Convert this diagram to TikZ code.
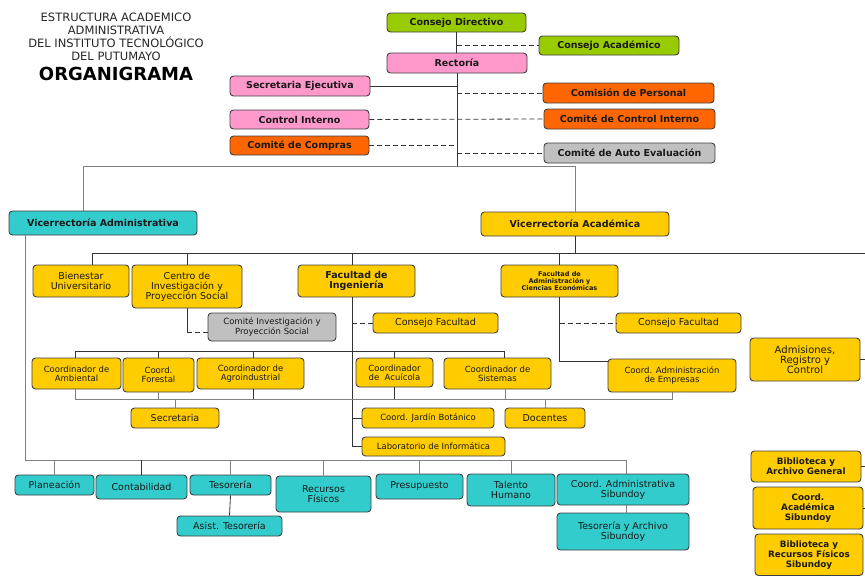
\documentclass[tikz,border=0pt]{standalone}
\usepackage{fontspec}
\setmainfont{DejaVu Sans}
\definecolor{cgreen}{HTML}{99CC00}
\definecolor{cpink}{HTML}{FF99CC}
\definecolor{corange}{HTML}{FF6600}
\definecolor{cgray}{HTML}{C0C0C0}
\definecolor{cteal}{HTML}{33CCCC}
\definecolor{cyellow}{HTML}{FFCC00}
\definecolor{boxline}{HTML}{404040}
\definecolor{darkln}{HTML}{333333}
\definecolor{grayln}{HTML}{808080}
\newcommand\mybox[7][]{%
  \pgfmathsetmacro\bxcx{(#3+#5)/2}\pgfmathsetmacro\bxcy{(#4+#6)/2}%
  \pgfmathsetmacro\bxw{#5-#3}\pgfmathsetmacro\bxh{#6-#4}%
  \node[box,#1,minimum width=\bxw pt,minimum height=\bxh pt] (#2) at (\bxcx,\bxcy) {#7};}
\begin{document}
\begin{tikzpicture}[x=1pt,y=-1pt,
  box/.style={draw=boxline, rounded corners=3.5pt, line width=0.9pt, inner sep=0pt, align=center, text=black!90},
  bigb/.style={font=\bfseries\fontsize{9.5}{10.5}\selectfont},
  med/.style={font=\fontsize{9.5}{10}\selectfont},
  sm/.style={font=\fontsize{8.5}{9.2}\selectfont},
  tinyb/.style={font=\bfseries\fontsize{6.5}{7}\selectfont},
  rb/.style={font=\bfseries\fontsize{8.8}{10}\selectfont},
  ln/.style={draw=darkln, line width=0.8pt},
  gln/.style={draw=grayln, line width=0.9pt},
  dln/.style={draw=darkln, line width=0.8pt, dash pattern=on 5pt off 3pt}]
\useasboundingbox (0,0) rectangle (865,576);
% title
\node[align=center, font=\fontsize{11.5}{13}\selectfont, text=black!85] (title) at (116,37) {ESTRUCTURA ACADEMICO\\ADMINISTRATIVA\\DEL INSTITUTO TECNOLÓGICO\\DEL PUTUMAYO};
\node[font=\bfseries\fontsize{18}{20}\selectfont] (org) at (116,74) {ORGANIGRAMA};
% top
\mybox[fill=cgreen,bigb]{cd}{387}{13}{526}{32}{Consejo Directivo}
\mybox[fill=cgreen,bigb]{ca}{539}{36}{679}{55}{Consejo Académico}
\mybox[fill=cpink,bigb]{rec}{387}{53}{527}{73}{Rectoría}
\mybox[fill=cpink,bigb]{se}{230}{76}{370}{96}{Secretaria Ejecutiva}
\mybox[fill=corange,bigb]{cp}{543}{83}{714}{103}{Comisión de Personal}
\mybox[fill=cpink,bigb]{ci}{230}{110}{369}{129}{Control Interno}
\mybox[fill=corange,bigb]{cci}{544}{109}{715}{129}{Comité de Control Interno}
\mybox[fill=corange,bigb]{cc}{230}{136}{369}{155}{Comité de Compras}
\mybox[fill=cgray,bigb]{cae}{544}{143}{715}{163}{Comité de Auto Evaluación}
% vicerrectorias
\mybox[fill=cteal,bigb]{via}{9}{211}{197}{235}{Vicerrectoría Administrativa}
\mybox[fill=cyellow,bigb]{vac}{481}{212}{669}{236}{Vicerrectoría Académica}
% academic
\mybox[fill=cyellow,med]{bien}{33}{265}{129}{297}{Bienestar\\Universitario}
\mybox[fill=cyellow,med]{cent}{132}{265}{242}{308}{Centro de\\Investigación y\\Proyección Social}
\mybox[fill=cyellow,bigb]{fi}{298}{265}{415}{297}{Facultad de\\Ingeniería}
\mybox[fill=cyellow,tinyb]{fa}{501}{265}{618}{297}{Facultad de\\Administración y\\Ciencias Económicas}
\mybox[fill=cgray,sm]{cinv}{208}{313}{336}{341}{Comité Investigación y\\Proyección Social}
\mybox[fill=cyellow,med]{cf1}{373}{313}{498}{333}{Consejo Facultad}
\mybox[fill=cyellow,med]{cf2}{616}{313}{741}{333}{Consejo Facultad}
\mybox[fill=cyellow,sm]{amb}{32}{358}{121}{389}{Coordinador de\\Ambiental}
\mybox[fill=cyellow,sm]{fore}{123}{358}{194}{392}{Coord.\\Forestal}
\mybox[fill=cyellow,sm]{agr}{197}{358}{304}{389}{Coordinador de\\Agroindustrial}
\mybox[fill=cyellow,sm]{acu}{356}{358}{433}{387}{Coordinador\\de \ Acuícola}
\mybox[fill=cyellow,sm]{sis}{444}{358}{551}{389}{Coordinador de\\Sistemas}
\mybox[fill=cyellow,sm]{ce}{608}{359}{736}{392}{Coord. Administración\\de Empresas}
\mybox[fill=cyellow,font=\fontsize{10}{10}\selectfont]{adm}{750}{338}{860}{381}{Admisiones,\\Registro y\\Control}
\mybox[fill=cyellow,med]{sec}{131}{408}{219}{428}{Secretaria}
\mybox[fill=cyellow,med]{doc}{505}{408}{585}{428}{Docentes}
\mybox[fill=cyellow,sm]{cjb}{362}{408}{494}{428}{Coord. Jardín Botánico}
\mybox[fill=cyellow,sm]{lab}{362}{437}{505}{456}{Laboratorio de Informática}
\mybox[fill=cyellow,rb]{bag}{751}{451}{861}{482}{Biblioteca y\\Archivo General}
\mybox[fill=cyellow,rb]{cas}{753}{487}{863}{529}{Coord.\\Académica\\Sibundoy}
\mybox[fill=cyellow,rb]{brf}{755}{534}{863}{575.5}{Biblioteca y\\Recursos Físicos\\Sibundoy}
% administrative
\mybox[fill=cteal,med]{pla}{15}{475}{94}{495}{Planeación}
\mybox[fill=cteal,med]{con}{96}{475}{187}{499}{Contabilidad}
\mybox[fill=cteal,med]{tes}{190}{475}{271}{495}{Tesorería}
\mybox[fill=cteal,med]{ates}{177}{516}{282}{536}{Asist. Tesorería}
\mybox[fill=cteal,med]{rf}{276}{476}{371}{512}{Recursos\\Físicos}
\mybox[fill=cteal,med]{pre}{376}{474}{463}{499}{Presupuesto}
\mybox[fill=cteal,med]{th}{467}{474}{555}{506}{Talento\\Humano}
\mybox[fill=cteal,med]{csib}{557}{474}{689}{505}{Coord. Administrativa\\Sibundoy}
\mybox[fill=cteal,med]{tas}{557}{513}{689}{550}{Tesorería y Archivo\\Sibundoy}
% bus coordinates
\coordinate (b1) at (0,166);
\coordinate (b2) at (0,253);
\coordinate (b3) at (0,351);
\coordinate (b4) at (0,399);
\coordinate (b5) at (0,460);
\coordinate (redge) at (865,253);
% top connectors
\draw[ln] (cd.south) -- (cd.south |- rec.north);
\draw[dln] (cd.south |- ca.west) -- (ca.west);
\draw[ln] (rec.south) -- (rec.south |- b1);
\draw[ln] (se.east) -- (se.east -| rec.south);
\draw[dln] (cp.west -| rec.south) -- (cp.west);
\draw[dln] (ci.east) -- (cci.west);
\draw[dln] (cc.east) -- (cc.east -| rec.south);
\draw[dln] (cae.west -| rec.south) -- (cae.west);
\coordinate (viaup) at ([xshift=-20pt]via.north);
\draw[gln] (viaup) -- (viaup |- b1) -- (vac.north |- b1) -- (vac.north);
% academic bus
\draw[ln] (vac.south) -- (vac.south |- b2);
\coordinate (bienup) at ([xshift=11pt]bien.north);
\coordinate (fiv) at ([xshift=-4.5pt]fi.south);
\coordinate (fiu) at ([xshift=-4.5pt]fi.north);
\draw[ln] (bienup) -- (bienup |- b2) -- (redge);
\draw[ln] (cent.north) -- (cent.north |- b2);
\draw[ln] (fiu) -- (fiu |- b2);
\draw[ln] (fa.north) -- (fa.north |- b2);
% centro
\coordinate (cinvin) at ([yshift=-5pt]cinv.west);
\draw[ln] (cent.south) -- (cent.south |- cinvin);
\draw[dln] (cent.south |- cinvin) -- (cinvin);
% facultad ingenieria
\draw[ln] (fiv) |- (lab.west);
\draw[ln] (fiv |- cjb.west) -- (cjb.west);
\draw[dln] (fiv |- cf1.west) -- (cf1.west);
\coordinate (sisup) at ([xshift=7pt]sis.north);
\coordinate (sisdn) at ([xshift=8pt]sis.south);
\coordinate (ambup) at ([xshift=-1.5pt]amb.north);
\coordinate (ambdn) at ([xshift=-1.5pt]amb.south);
\coordinate (agrup) at ([xshift=2.5pt]agr.north);
\coordinate (agrdn) at ([xshift=2.5pt]agr.south);
\draw[ln] (ambup) -- (ambup |- b3) -- (sisup |- b3) -- (sisup);
\draw[ln] (fore.north) -- (fore.north |- b3);
\draw[ln] (agrup) -- (agrup |- b3);
\draw[ln] (acu.north) -- (acu.north |- b3);
\draw[gln] (ambdn) -- (ambdn |- b4) -- (ce.south |- b4) -- (ce.south);
\draw[gln] (fore.south) -- (fore.south |- b4);
\draw[ln] (agrdn) -- (agrdn |- b4);
\draw[ln] (acu.south) -- (acu.south |- b4);
\draw[gln] (sisdn) -- (sisdn |- b4);
\draw[gln] (sec.north) -- (sec.north |- b4);
\draw[gln] (doc.north) -- (doc.north |- b4);
% facultad administracion
\coordinate (cein) at ([yshift=14pt]ce.west);
\draw[ln] (fa.south) |- (cein);
\draw[dln] (fa.south |- cf2.west) -- (cf2.west);
% right column stubs
\draw[ln] (adm.east) -- (adm.east -| redge);
\draw[ln] (bag.east) -- (bag.east -| redge);
\draw[ln] (cas.east) -- (cas.east -| redge);
% vicerrectoria administrativa
\coordinate (viadn) at ([xshift=17pt]via.south west);
\coordinate (csibup) at ([xshift=3pt]csib.north);
\coordinate (csibdn) at ([xshift=3pt]csib.south);
\draw[gln] (viadn) -- (viadn |- b5) -- (csibup |- b5) -- (csibup);
\draw[gln] (pla.north) -- (pla.north |- b5);
\draw[ln] (con.north) -- (con.north |- b5);
\draw[gln] (tes.north) -- (tes.north |- b5);
\draw[gln] (rf.north) -- (rf.north |- b5);
\draw[gln] (pre.north) -- (pre.north |- b5);
\draw[gln] (th.north) -- (th.north |- b5);
\draw[ln] (tes.south) -- (ates.north);
\draw[gln] (csibdn) -- (csibdn |- tas.north);
\end{tikzpicture}
\end{document}
